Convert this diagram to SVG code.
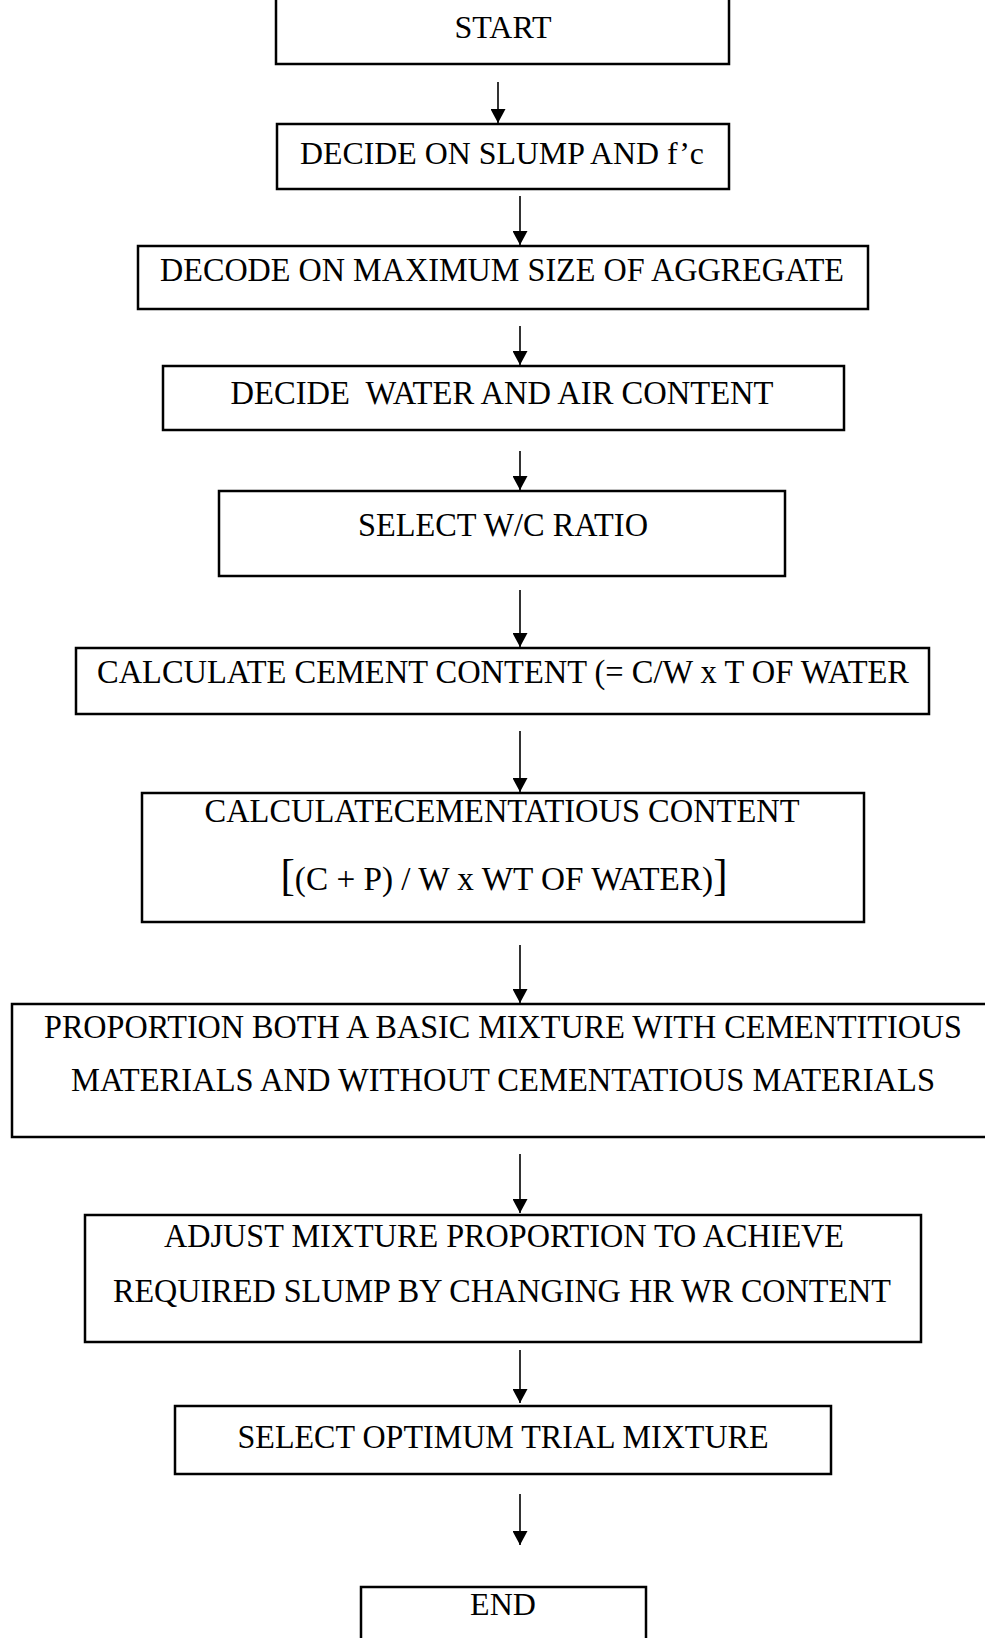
<svg xmlns="http://www.w3.org/2000/svg" width="985" height="1638" viewBox="0 0 985 1638">
<style>
.box{fill:#fff;stroke:#000;stroke-width:2.5}
.t{font-family:"Liberation Serif","Times New Roman",serif;font-size:34px;fill:#000;text-anchor:middle}
.s{font-size:32px}
.c{stroke:#000;stroke-width:1.6;fill:none}
</style>
<defs>
<marker id="ah" markerWidth="15" markerHeight="15" refX="14" refY="7.5" orient="auto" markerUnits="userSpaceOnUse" viewBox="0 0 15 15">
<path d="M0,0 L14,7.5 L0,15 Z" fill="#000"/>
</marker>
</defs>
<rect width="985" height="1638" fill="#fff"/>
<g id="n1"><rect class="box" x="276" y="-3" width="453" height="67"/><text class="t s" x="503" y="38">START</text></g>
<g id="n2"><rect class="box" x="277" y="124" width="452" height="65"/><text class="t s" x="502" y="164" textLength="404" lengthAdjust="spacingAndGlyphs">DECIDE ON SLUMP AND f’c</text></g>
<g id="n3"><rect class="box" x="138" y="246" width="730" height="63"/><text class="t" x="502" y="281" textLength="684" lengthAdjust="spacingAndGlyphs">DECODE ON MAXIMUM SIZE OF AGGREGATE</text></g>
<g id="n4"><rect class="box" x="163" y="366" width="681" height="64"/><text class="t" x="502" y="404" textLength="543" lengthAdjust="spacingAndGlyphs" xml:space="preserve">DECIDE  WATER AND AIR CONTENT</text></g>
<g id="n5"><rect class="box" x="219" y="491" width="566" height="85"/><text class="t" x="503" y="536" textLength="290" lengthAdjust="spacingAndGlyphs">SELECT W/C RATIO</text></g>
<g id="n6"><rect class="box" x="76" y="648" width="853" height="66"/><text class="t" x="503" y="683" textLength="812" lengthAdjust="spacingAndGlyphs">CALCULATE CEMENT CONTENT (= C/W x T OF WATER</text></g>
<g id="n7"><rect class="box" x="142" y="793" width="722" height="129"/><text class="t" x="502" y="822" textLength="595" lengthAdjust="spacingAndGlyphs">CALCULATECEMENTATIOUS CONTENT</text><text class="t" x="504" y="890" textLength="447" lengthAdjust="spacingAndGlyphs"><tspan font-size="44">[</tspan>(C + P) / W x WT OF WATER)<tspan font-size="44">]</tspan></text></g>
<g id="n8"><rect class="box" x="12" y="1004" width="990" height="133"/><text class="t" x="503" y="1038" textLength="918" lengthAdjust="spacingAndGlyphs">PROPORTION BOTH A BASIC MIXTURE WITH CEMENTITIOUS</text><text class="t" x="503" y="1091" textLength="864" lengthAdjust="spacingAndGlyphs">MATERIALS AND WITHOUT CEMENTATIOUS MATERIALS</text></g>
<g id="n9"><rect class="box" x="85" y="1215" width="836" height="127"/><text class="t" x="504" y="1247" textLength="680" lengthAdjust="spacingAndGlyphs">ADJUST MIXTURE PROPORTION TO ACHIEVE</text><text class="t" x="502" y="1302" textLength="778" lengthAdjust="spacingAndGlyphs">REQUIRED SLUMP BY CHANGING HR WR CONTENT</text></g>
<g id="n10"><rect class="box" x="175" y="1406" width="656" height="68"/><text class="t" x="503" y="1448" textLength="531" lengthAdjust="spacingAndGlyphs">SELECT OPTIMUM TRIAL MIXTURE</text></g>
<g id="n11"><rect class="box" x="361" y="1587" width="285" height="60"/><text class="t s" x="503" y="1615">END</text></g>
<g id="connectors">
<line class="c" x1="498" y1="82" x2="498" y2="123" marker-end="url(#ah)"/>
<line class="c" x1="520" y1="196" x2="520" y2="245" marker-end="url(#ah)"/>
<line class="c" x1="520" y1="326" x2="520" y2="365" marker-end="url(#ah)"/>
<line class="c" x1="520" y1="451" x2="520" y2="490" marker-end="url(#ah)"/>
<line class="c" x1="520" y1="590" x2="520" y2="647" marker-end="url(#ah)"/>
<line class="c" x1="520" y1="731" x2="520" y2="792" marker-end="url(#ah)"/>
<line class="c" x1="520" y1="945" x2="520" y2="1003" marker-end="url(#ah)"/>
<line class="c" x1="520" y1="1154" x2="520" y2="1213" marker-end="url(#ah)"/>
<line class="c" x1="520" y1="1350" x2="520" y2="1403" marker-end="url(#ah)"/>
<line class="c" x1="520" y1="1494" x2="520" y2="1545" marker-end="url(#ah)"/>
</g>
</svg>
